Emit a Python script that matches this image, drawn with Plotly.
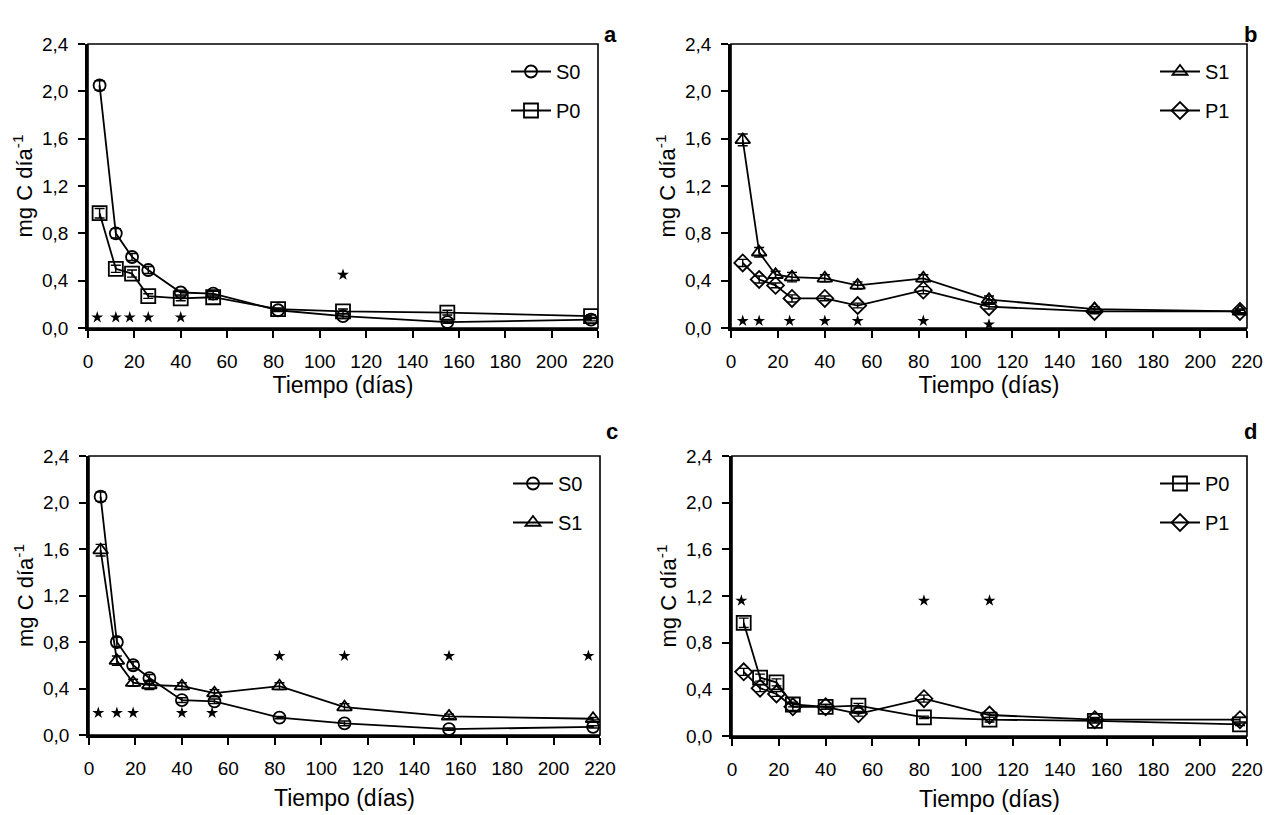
import plotly.graph_objects as go

# sampling days
dias = [5, 12, 19, 26, 40, 54, 82, 110, 155, 217]

# mg C dia-1
s0 = [2.05, 0.80, 0.60, 0.49, 0.30, 0.29, 0.15, 0.10, 0.05, 0.07]
p0 = [0.97, 0.50, 0.46, 0.27, 0.25, 0.26, 0.16, 0.14, 0.13, 0.10]
s1 = [1.59, 0.64, 0.45, 0.43, 0.42, 0.36, 0.42, 0.24, 0.16, 0.14]
p1 = [0.55, 0.41, 0.36, 0.25, 0.25, 0.19, 0.32, 0.18, 0.14, 0.14]

s0_err = [0.04, 0.04, 0.03, 0.03, 0.02, 0.02, 0.01, 0.02, 0.01, 0.01]
p0_err = [0.04, 0.03, 0.03, 0.02, 0.02, 0.02, 0.01, 0.02, 0.02, 0.01]
s1_err = [0.05, 0.04, 0.03, 0.04, 0.03, 0.03, 0.03, 0.03, 0.02, 0.01]
p1_err = [0.03, 0.03, 0.02, 0.03, 0.02, 0.02, 0.03, 0.02, 0.02, 0.02]

# significance marks (*)
star_a_x = [4, 12, 18, 26, 40, 110]
star_a_y = [0.09, 0.09, 0.09, 0.09, 0.09, 0.45]
star_b_x = [5, 12, 25, 40, 54, 82, 110]
star_b_y = [0.06, 0.06, 0.06, 0.06, 0.06, 0.06, 0.03]
star_c_x = [4, 12, 19, 40, 53, 82, 110, 155, 215]
star_c_y = [0.19, 0.19, 0.19, 0.19, 0.19, 0.68, 0.68, 0.68, 0.68]
star_d_x = [4, 82, 110]
star_d_y = [1.16, 1.16, 1.16]

x_ticks = list(range(0, 221, 20))
y_ticks = [0.0, 0.4, 0.8, 1.2, 1.6, 2.0, 2.4]

FONT = "Liberation Sans, Arial, sans-serif"

series = {
    "S0": (s0, s0_err, "circle-open", 12),
    "P0": (p0, p0_err, "square-open", 14),
    "S1": (s1, s1_err, "triangle-up-open", 13),
    "P1": (p1, p1_err, "diamond-open", 13),
}

panels = [
    ("a", ["S0", "P0"], star_a_x, star_a_y),
    ("b", ["S1", "P1"], star_b_x, star_b_y),
    ("c", ["S0", "S1"], star_c_x, star_c_y),
    ("d", ["P0", "P1"], star_d_x, star_d_y),
]

# page has an 8px body margin, so the figure is drawn from (8, 8)
OFF = 8
W, H = 1277 - OFF, 815 - OFF
# plot boxes in window pixels: left, right, top, bottom
boxes = [(88, 598, 44, 328), (731, 1247, 44, 328),
         (89, 600, 456, 735), (732, 1247, 456, 736)]
title_gap = [7, 7, 13, 13]


def px(x):
    return (x - OFF) / W


def py(y):
    return 1 - (y - OFF) / H


fig = go.Figure()

for i, (lab, names, sx, sy) in enumerate(panels):
    n = "" if i == 0 else str(i + 1)
    xa, ya = "x" + n, "y" + n
    lg = "legend" + n
    for name in names:
        vals, err, sym, sz = series[name]
        fig.add_trace(go.Scatter(
            x=dias, y=vals, name=name, xaxis=xa, yaxis=ya, legend=lg,
            legendgroup=name + n,
            mode="lines+markers",
            line=dict(color="black", width=1.8),
            marker=dict(symbol=sym, size=sz, color="black",
                        line=dict(width=1.8, color="black")),
            error_y=dict(type="data", array=err, visible=True,
                         color="black", thickness=1.4, width=5),
        ))
    fig.add_trace(go.Scatter(
        x=sx, y=sy, xaxis=xa, yaxis=ya, mode="markers", showlegend=False,
        marker=dict(symbol="star", size=9, color="black"),
    ))

    l, r, t, b = boxes[i]
    dom_x = [px(l), px(r)]
    dom_y = [py(b), py(t)]
    axis_common = dict(showline=True, linecolor="black", linewidth=2.5,
                       ticks="outside", ticklen=7, tickwidth=2, tickcolor="black",
                       showgrid=False, zeroline=False, automargin=False,
                       tickfont=dict(family=FONT, size=19, color="black"))
    fig.layout["xaxis" + n] = dict(
        domain=dom_x, anchor=ya, range=[0, 220], tickvals=x_ticks,
        ticklabelstandoff=7,
        title=dict(text="Tiempo (días)", standoff=title_gap[i],
                   font=dict(family=FONT, size=23, color="black")),
        **axis_common)
    fig.layout["yaxis" + n] = dict(
        domain=dom_y, anchor=xa, range=[0, 2.4], tickvals=y_ticks,
        tickformat=".1f", ticklabelstandoff=6,
        title=dict(text="mg C día<sup>-1</sup>", standoff=4,
                   font=dict(family=FONT, size=22, color="black")),
        **axis_common)
    fig.layout[lg] = dict(
        x=px(r - 12), y=py(t + 8), xanchor="right", yanchor="top",
        bgcolor="rgba(0,0,0,0)", font=dict(family=FONT, size=20, color="black"),
        tracegroupgap=10, itemwidth=40,
    )
    # thin box around the plot area
    fig.add_shape(type="rect", xref="paper", yref="paper",
                  x0=dom_x[0], x1=dom_x[1], y0=dom_y[0], y1=dom_y[1],
                  line=dict(color="black", width=1.6))
    fig.add_annotation(text="<b>" + lab + "</b>", xref="paper", yref="paper",
                       x=px(r + 12), y=py(t - 24), showarrow=False,
                       font=dict(family=FONT, size=22, color="black"))

fig.update_layout(
    width=W, height=H, margin=dict(l=0, r=0, t=0, b=0),
    paper_bgcolor="white", plot_bgcolor="white",
    separators=", ", font=dict(family=FONT, color="black"),
)

fig.write_html("out.html")
